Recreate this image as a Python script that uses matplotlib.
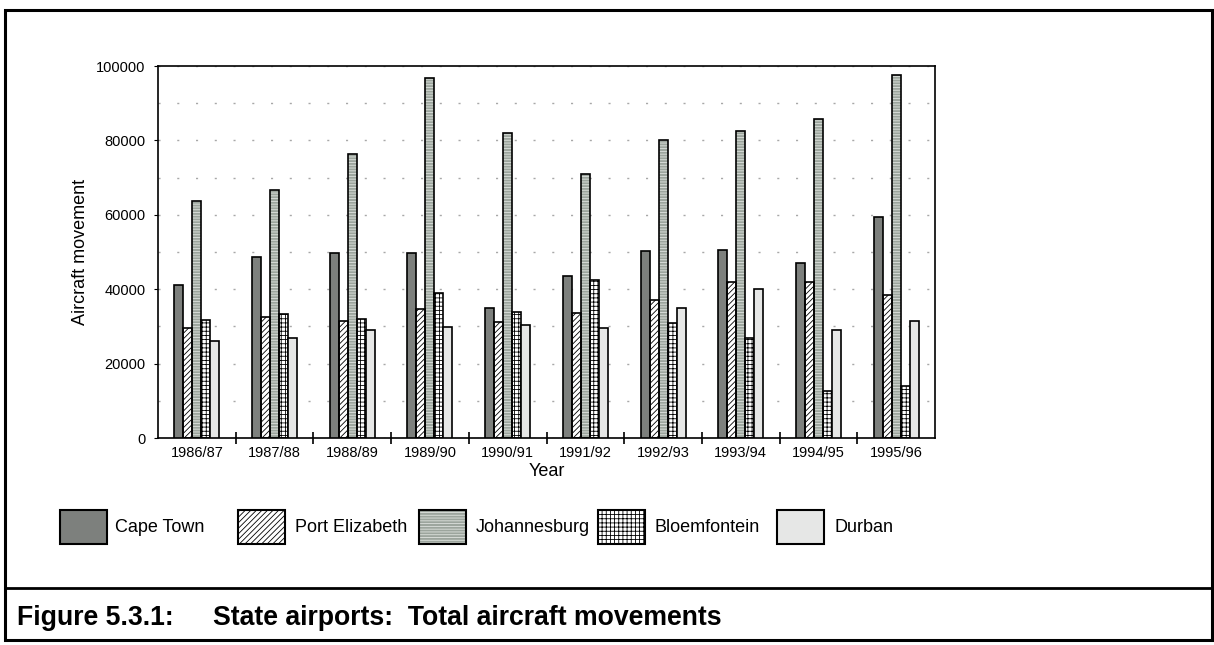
import numpy as np
import matplotlib
matplotlib.use("Agg")
import matplotlib.pyplot as plt
from matplotlib.patches import Rectangle
from matplotlib.lines import Line2D
from matplotlib.ticker import MultipleLocator, FixedLocator

# ===================== DATOS =====================
years = ["1986/87", "1987/88", "1988/89", "1989/90", "1990/91",
         "1991/92", "1992/93", "1993/94", "1994/95", "1995/96"]

cape_town = [41000, 48700, 49800, 49800, 35000, 43500, 50300, 50500, 47000, 59500]
port_elizabeth = [29600, 32500, 31400, 34600, 31300, 33500, 37000, 42000, 42000, 38500]
johannesburg = [63800, 66800, 76400, 96900, 82000, 71000, 80000, 82500, 85800, 97500]
bloemfontein = [31600, 33400, 32000, 38900, 34000, 42600, 31000, 27000, 12700, 14000]
durban = [26100, 27000, 29100, 29800, 30300, 29500, 35000, 40000, 29000, 31500]

series_names = ["Cape Town", "Port Elizabeth", "Johannesburg", "Bloemfontein", "Durban"]
series_values = [cape_town, port_elizabeth, johannesburg, bloemfontein, durban]

# estilo de cada serie: (relleno, hatch, color del hatch)
estilos = [
    ("#7d807d", None, None),
    ("white", "//////", "black"),
    ("#9ca59d", "------", "#dfe3df"),
    ("white", "++++", "black"),
    ("#e6e7e6", None, None),
]
# =================================================

W, H = 1214, 645
plt.rcParams["font.family"] = ["Liberation Sans", "DejaVu Sans"]
plt.rcParams["hatch.linewidth"] = 0.6


def fx(x):
    return x / W


def fy(y):
    return 1 - y / H


fig = plt.figure(figsize=(W / 100, H / 100), dpi=100)
ax = fig.add_axes([fx(158), fy(438), fx(935) - fx(158), fy(66) - fy(438)])

x = np.arange(len(years))
ancho = 0.116
for i, (nombre, valores) in enumerate(zip(series_names, series_values)):
    cara, hatch, hcol = estilos[i]
    pos = x + (i - 2) * ancho
    if hatch:
        ax.bar(pos, valores, ancho, color=cara, hatch=hatch, edgecolor=hcol,
               linewidth=0, zorder=2)
        ax.bar(pos, valores, ancho, fill=False, edgecolor="black",
               linewidth=1.2, zorder=3)
    else:
        ax.bar(pos, valores, ancho, color=cara, edgecolor="black",
               linewidth=1.2, zorder=3)

ax.set_xlim(-0.5, len(years) - 0.5)
ax.set_ylim(0, 100000)
ax.set_yticks(np.arange(0, 100001, 20000))
ax.yaxis.set_minor_locator(MultipleLocator(10000))
ax.yaxis.grid(True, which="both", color="#a8a8a8", linestyle=(0, (1.5, 12)),
              linewidth=1.0, zorder=0)
ax.tick_params(axis="y", which="major", length=3, pad=6, labelsize=10.5)
ax.tick_params(axis="y", which="minor", length=0)

ax.set_xticks(x)
ax.set_xticklabels(years)
ax.xaxis.set_minor_locator(FixedLocator(np.arange(0.5, len(years) - 1, 1.0)))
ax.tick_params(axis="x", which="major", length=0, pad=6, labelsize=10.5)
ax.tick_params(axis="x", which="minor", length=8, direction="inout", width=1.2)

for s in ax.spines.values():
    s.set_linewidth(1.2)

ax.set_xlabel("Year", fontsize=13, labelpad=2)
ax.set_ylabel("Aircraft movement", fontsize=13, labelpad=5)

# leyenda dibujada a mano, debajo del gráfico
leg_patch_x = [60, 238, 419, 598, 777]
leg_text_x = [115, 295, 476, 654, 835]
for i, nombre in enumerate(series_names):
    cara, hatch, hcol = estilos[i]
    r = (fx(leg_patch_x[i]), fy(544)), fx(47), 34 / H
    if hatch:
        fig.add_artist(Rectangle(*r, transform=fig.transFigure, facecolor=cara,
                                 hatch=hatch, edgecolor=hcol, linewidth=0))
        fig.add_artist(Rectangle(*r, transform=fig.transFigure, fill=False,
                                 edgecolor="black", linewidth=1.5))
    else:
        fig.add_artist(Rectangle(*r, transform=fig.transFigure, facecolor=cara,
                                 edgecolor="black", linewidth=1.5))
    fig.text(fx(leg_text_x[i]), fy(527), nombre, fontsize=13, va="center", ha="left")

# marco exterior y línea del título
fig.add_artist(Rectangle((fx(5), fy(640)), fx(1207), fy(10) - fy(640),
                         transform=fig.transFigure, fill=False,
                         edgecolor="black", linewidth=2.2))
fig.add_artist(Line2D([fx(5), fx(1212)], [fy(588), fy(588)],
                      transform=fig.transFigure, color="black", linewidth=2.0))

fig.text(fx(17), fy(625), "Figure 5.3.1:", fontsize=19.2, fontweight="bold",
         va="baseline", ha="left")
fig.text(fx(213), fy(625), "State airports:  Total aircraft movements",
         fontsize=19.2, fontweight="bold", va="baseline", ha="left")

fig.savefig("out.png", dpi=100)
